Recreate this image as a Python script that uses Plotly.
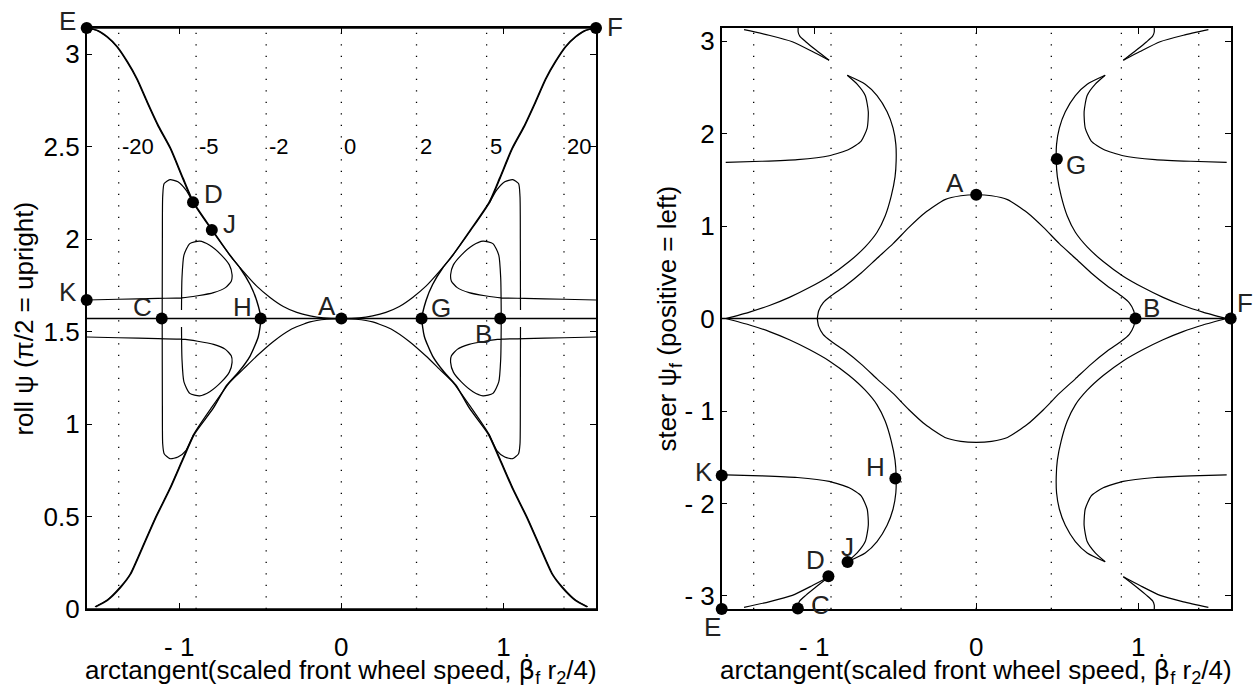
import numpy as np
import plotly.graph_objects as go

FONT = "Liberation Sans, Arial, Helvetica, sans-serif"
PI = np.pi
HALF_PI = np.pi / 2

# scaled front wheel speeds marked by dotted guide lines
GUIDE_SPEEDS = [-20, -5, -2, 0, 2, 5, 20]
GUIDE_LABELS = ["-20", "-5", "-2", "0", "2", "5", "20"]

# ---------------- left panel: roll angle (left half, x <= 0) ----------------
# upper branch E -> D -> J -> A
ROLL_UP_X = [-1.5707, -1.509, -1.447, -1.386, -1.324, -1.262, -1.200, -1.130, -1.056, -0.980,
             -0.915, -0.800, -0.687, -0.605, -0.522, -0.440, -0.358, -0.275, -0.193, -0.111, 0.0]
ROLL_UP_Y = [3.1415, 3.129, 3.094, 3.041, 2.961, 2.865, 2.742, 2.610, 2.490, 2.330,
             2.199, 2.050, 1.913, 1.826, 1.746, 1.685, 1.636, 1.604, 1.585, 1.574, 1.5708]
# lower branch from the floor up to A
ROLL_LO_X = [-1.520, -1.447, -1.365, -1.304, -1.231, -1.150, -1.060, -0.980, -0.910, -0.800,
             -0.687, -0.605, -0.522, -0.419, -0.317, -0.193, -0.090, 0.0]
ROLL_LO_Y = [0.012, 0.047, 0.118, 0.188, 0.329, 0.490, 0.650, 0.810, 0.946, 1.090,
             1.227, 1.297, 1.368, 1.447, 1.509, 1.553, 1.567, 1.5708]
# branch through D, J and H
ROLL_H_X = [-1.5707, -1.505, -1.443, -1.382, -1.320, -1.258, -1.196, -1.126, -1.052, -0.976,
            -0.911, -0.796, -0.687, -0.625, -0.563, -0.522, -0.497, -0.512, -0.563, -0.635,
            -0.707, -0.790, -0.906, -0.976, -1.056, -1.146, -1.227, -1.300, -1.360, -1.443, -1.515]
ROLL_H_Y = [3.1415, 3.129, 3.094, 3.041, 2.961, 2.865, 2.742, 2.610, 2.490, 2.330,
            2.199, 2.050, 1.913, 1.844, 1.755, 1.667, 1.5708, 1.474, 1.368, 1.280,
            1.210, 1.086, 0.946, 0.810, 0.650, 0.490, 0.329, 0.188, 0.118, 0.047, 0.012]
# outer loop through C: upper and lower pieces
CLOOP_TOP_X = [-0.915, -0.959, -1.008, -1.057, -1.093, -1.102, -1.104, -1.105]
CLOOP_TOP_Y = [2.199, 2.266, 2.310, 2.322, 2.301, 2.231, 2.000, 1.617]
CLOOP_BOT_X = [-1.105, -1.104, -1.102, -1.093, -1.057, -1.008, -0.959, -0.910]
CLOOP_BOT_Y = [1.525, 1.100, 0.893, 0.840, 0.813, 0.822, 0.857, 0.946]
# inner loop starting at K: upper and lower pieces
KLOOP_TOP_X = [-1.5707, -1.374, -1.130, -0.983, -0.886, -0.788, -0.715, -0.679, -0.674,
               -0.691, -0.740, -0.812, -0.874, -0.935, -0.971, -0.983, -0.986]
KLOOP_TOP_Y = [1.671, 1.675, 1.680, 1.683, 1.694, 1.711, 1.738, 1.773, 1.808,
               1.861, 1.914, 1.967, 1.989, 1.976, 1.914, 1.791, 1.617]
KLOOP_BOT_X = [-1.5707, -1.374, -1.130, -0.983, -0.886, -0.788, -0.715, -0.679, -0.674,
               -0.691, -0.740, -0.812, -0.874, -0.935, -0.971, -0.983, -0.986]
KLOOP_BOT_Y = [1.471, 1.467, 1.462, 1.459, 1.448, 1.431, 1.404, 1.369, 1.334,
               1.281, 1.228, 1.175, 1.153, 1.166, 1.228, 1.351, 1.525]

ROLL_PT_NAMES = ["A", "B", "C", "D", "E", "F", "G", "H", "J", "K"]
ROLL_PT_X = [0.0, 0.980, -1.108, -0.915, -1.5707, 1.5707, 0.495, -0.498, -0.799, -1.5707]
ROLL_PT_Y = [1.5708, 1.5708, 1.5708, 2.200, 3.1415, 3.1415, 1.5708, 1.5708, 2.050, 1.671]

# ---------------- right panel: steer angle (upper-left quadrant) ----------------
STEER_A_X = [0.0, -0.095, -0.193, -0.316, -0.415, -0.513, -0.612, -0.710, -0.809, -0.895,
             -0.945, -0.972, -0.981]
STEER_A_Y = [1.339, 1.328, 1.286, 1.144, 0.986, 0.810, 0.652, 0.493, 0.352, 0.246,
             0.170, 0.085, 0.0]
STEER_OUT_X = [-1.545, -1.399, -1.276, -1.153, -1.030, -0.907, -0.784, -0.685, -0.612, -0.562,
               -0.525, -0.501, -0.494, -0.496, -0.513, -0.550, -0.612, -0.685, -0.796]
STEER_OUT_Y = [0.0, 0.070, 0.141, 0.229, 0.335, 0.458, 0.616, 0.775, 0.933, 1.109,
               1.321, 1.532, 1.708, 1.884, 2.060, 2.236, 2.412, 2.535, 2.631]
STEER_IN_X = [-0.796, -0.735, -0.685, -0.666, -0.673, -0.710, -0.784, -0.907, -1.104, -1.325, -1.546]
STEER_IN_Y = [2.631, 2.535, 2.412, 2.236, 2.060, 1.919, 1.831, 1.761, 1.719, 1.701, 1.690]
STEER_V1_X = [-0.908, -1.011, -1.135, -1.279, -1.433]
STEER_V1_Y = [2.793, 2.888, 2.994, 3.064, 3.124]
STEER_V2_X = [-0.908, -0.991, -1.052, -1.089, -1.099, -1.099]
STEER_V2_Y = [2.793, 2.906, 2.994, 3.054, 3.099, 3.1416]

STEER_PT_NAMES = ["A", "B", "C", "D", "E", "F", "G", "H", "J", "K"]
STEER_PT_X = [0.0, 0.983, -1.101, -0.912, -1.5707, 1.5707, 0.498, -0.499, -0.794, -1.5707]
STEER_PT_Y = [1.339, 0.0, -3.135, -2.786, -3.1415, 0.0, 1.725, -1.729, -2.634, -1.698]

# label placement: (xanchor, xshift, yshift) in pixels
ROLL_LABEL_POS = {"A": ("center", -14, 13), "B": ("right", -6, -15), "C": ("right", -8, 12),
                  "D": ("left", 9, 8), "E": ("right", -9, 7), "F": ("left", 9, 1),
                  "G": ("left", 7, 11), "H": ("right", -7, 12), "J": ("left", 9, 6),
                  "K": ("right", -8, 8)}
STEER_LABEL_POS = {"A": ("right", -10, 12), "B": ("left", 6, 11), "C": ("left", 11, 3),
                   "D": ("right", -1, 16), "E": ("right", 1, -18), "F": ("left", 4, 16),
                   "G": ("left", 7, -6), "H": ("right", -8, 11), "J": ("center", 0, 15),
                   "K": ("right", -7, 4)}


def neg(v):
    return [-a for a in v]


def curve(x, y, xa, ya, width=1.2, smooth=True):
    line = dict(color="black", width=width)
    if smooth:
        line.update(shape="spline", smoothing=0.6)
    return go.Scatter(x=list(x), y=list(y), mode="lines", xaxis=xa, yaxis=ya,
                      line=line, hoverinfo="skip", showlegend=False)


fig = go.Figure()

# dotted guide lines at fixed speeds
guide_x = [float(np.arctan(s / 4.0)) for s in GUIDE_SPEEDS]
for xa, ya, lo, hi in (("x", "y", 0.0, PI), ("x2", "y2", -PI, PI)):
    for gx in guide_x:
        fig.add_trace(go.Scatter(x=[gx, gx], y=[lo, hi], mode="lines", xaxis=xa, yaxis=ya,
                                 line=dict(color="black", width=1.3, dash="1.3px,10.2px"),
                                 hoverinfo="skip", showlegend=False))

# ---- left panel curves ----
fig.add_trace(curve([-HALF_PI, HALF_PI], [HALF_PI, HALF_PI], "x", "y", 1.6, False))
fig.add_trace(curve([-HALF_PI, HALF_PI], [PI, PI], "x", "y", 1.4, False))
fig.add_trace(curve([-HALF_PI, HALF_PI], [0, 0], "x", "y", 1.4, False))
for cx, cy in ((ROLL_UP_X, ROLL_UP_Y), (ROLL_LO_X, ROLL_LO_Y)):
    fig.add_trace(curve(cx + neg(cx[::-1])[1:], cy + cy[::-1][1:], "x", "y"))
fig.add_trace(curve(ROLL_H_X, ROLL_H_Y, "x", "y", 1.4))
fig.add_trace(curve(neg(ROLL_H_X), ROLL_H_Y, "x", "y", 1.4))
# left side: outer loop continuous through C, inner loop broken at pi/2
fig.add_trace(curve(CLOOP_TOP_X + CLOOP_BOT_X, CLOOP_TOP_Y + CLOOP_BOT_Y, "x", "y"))
fig.add_trace(curve(KLOOP_TOP_X, KLOOP_TOP_Y, "x", "y"))
fig.add_trace(curve(KLOOP_BOT_X, KLOOP_BOT_Y, "x", "y"))
# right side: inner loop continuous through B, outer loop broken at pi/2
fig.add_trace(curve(neg(KLOOP_TOP_X + KLOOP_BOT_X[::-1]), KLOOP_TOP_Y + KLOOP_BOT_Y[::-1], "x", "y"))
fig.add_trace(curve(neg(CLOOP_TOP_X), CLOOP_TOP_Y, "x", "y"))
fig.add_trace(curve(neg(CLOOP_BOT_X), CLOOP_BOT_Y, "x", "y"))

# ---- right panel curves ----
fig.add_trace(curve([-HALF_PI, HALF_PI], [0, 0], "x2", "y2", 1.4, False))
top_x = STEER_A_X[::-1] + neg(STEER_A_X)[1:]
top_y = STEER_A_Y[::-1] + STEER_A_Y[1:]
fig.add_trace(curve(top_x, top_y, "x2", "y2"))
fig.add_trace(curve(top_x, neg(top_y), "x2", "y2"))
for sx in (1, -1):
    for sy in (1, -1):
        for cx, cy in ((STEER_OUT_X, STEER_OUT_Y), (STEER_IN_X, STEER_IN_Y),
                       (STEER_V1_X, STEER_V1_Y), (STEER_V2_X, STEER_V2_Y)):
            fig.add_trace(curve([sx * v for v in cx], [sy * v for v in cy], "x2", "y2"))

# ---- marked equilibria ----
for names, px, py, pos, xa, ya in ((ROLL_PT_NAMES, ROLL_PT_X, ROLL_PT_Y, ROLL_LABEL_POS, "x", "y"),
                                   (STEER_PT_NAMES, STEER_PT_X, STEER_PT_Y, STEER_LABEL_POS, "x2", "y2")):
    fig.add_trace(go.Scatter(x=px, y=py, mode="markers", xaxis=xa, yaxis=ya, cliponaxis=False,
                             marker=dict(color="black", size=12), hoverinfo="skip",
                             showlegend=False))
    for n, vx, vy in zip(names, px, py):
        anchor, dx, dy = pos[n]
        fig.add_annotation(x=vx, y=vy, xref=xa, yref=ya, text=n, showarrow=False,
                           xanchor=anchor, yanchor="middle", xshift=dx, yshift=dy,
                           font=dict(family=FONT, size=26, color="#222"))

# speed labels on the guide lines
for gx, lab in zip(guide_x, GUIDE_LABELS):
    fig.add_annotation(x=gx, y=2.5, xref="x", yref="y", text=lab, showarrow=False,
                       xanchor="left", yanchor="middle", xshift=1,
                       font=dict(family=FONT, size=22, color="black"))

XDOM1 = [0.06908, 0.47490]
XDOM2 = [0.57506, 0.98064]
YDOM = [0.10717, 0.96026]

axis_common = dict(showline=True, linecolor="black", linewidth=1.5, mirror="ticks",
                   ticks="inside", ticklen=6, tickwidth=1.2, tickcolor="black",
                   showgrid=False, zeroline=False,
                   tickfont=dict(family=FONT, size=26, color="black"))

fig.update_layout(
    width=1255, height=697, autosize=False,
    margin=dict(l=0, r=0, t=0, b=0),
    paper_bgcolor="white", plot_bgcolor="white",
    showlegend=False,
    xaxis=dict(domain=XDOM1, range=[-HALF_PI, HALF_PI], anchor="y", ticklabelstandoff=14,
               tickvals=[-1, 0, 1], ticktext=["- 1", "0", "1"], **axis_common),
    yaxis=dict(domain=YDOM, range=[0, PI], anchor="x",
               tickvals=[0, 0.5, 1, 1.5, 2, 2.5, 3],
               ticktext=["0", "0.5", "1", "1.5", "2", "2.5", "3"], **axis_common),
    xaxis2=dict(domain=XDOM2, range=[-HALF_PI, HALF_PI], anchor="y2", ticklabelstandoff=14,
                tickvals=[-1, 0, 1], ticktext=["- 1", "0", "1"], **axis_common),
    yaxis2=dict(domain=YDOM, range=[-PI, PI], anchor="x2",
                tickvals=[-3, -2, -1, 0, 1, 2, 3],
                ticktext=["- 3", "- 2", "- 1", "0", "1", "2", "3"], **axis_common),
)

XTITLE = ("arctangent(scaled front wheel speed, "
          "<span style='font-family:DejaVu Sans'>β\u0307</span><sub>f</sub> r<sub>2</sub>/4)")
title_font = dict(family=FONT, size=26, color="black")
for dom in (XDOM1, XDOM2):
    fig.add_annotation(x=(dom[0] + dom[1]) / 2, y=1 - 666 / 697, xref="paper", yref="paper",
                       text=XTITLE, showarrow=False, xanchor="center", yanchor="top",
                       borderpad=0, font=title_font)
fig.add_annotation(x=24 / 1255, y=(YDOM[0] + YDOM[1]) / 2, xref="paper", yref="paper",
                   text="roll ψ (π/2 = upright)", textangle=-90, showarrow=False,
                   xanchor="center", yanchor="middle", font=title_font)
fig.add_annotation(x=669 / 1255, y=(YDOM[0] + YDOM[1]) / 2, xref="paper", yref="paper",
                   text="steer ψ<sub>f</sub> (positive = left)", textangle=-90, showarrow=False,
                   xanchor="center", yanchor="middle", font=title_font)

fig.write_html("out.html")
